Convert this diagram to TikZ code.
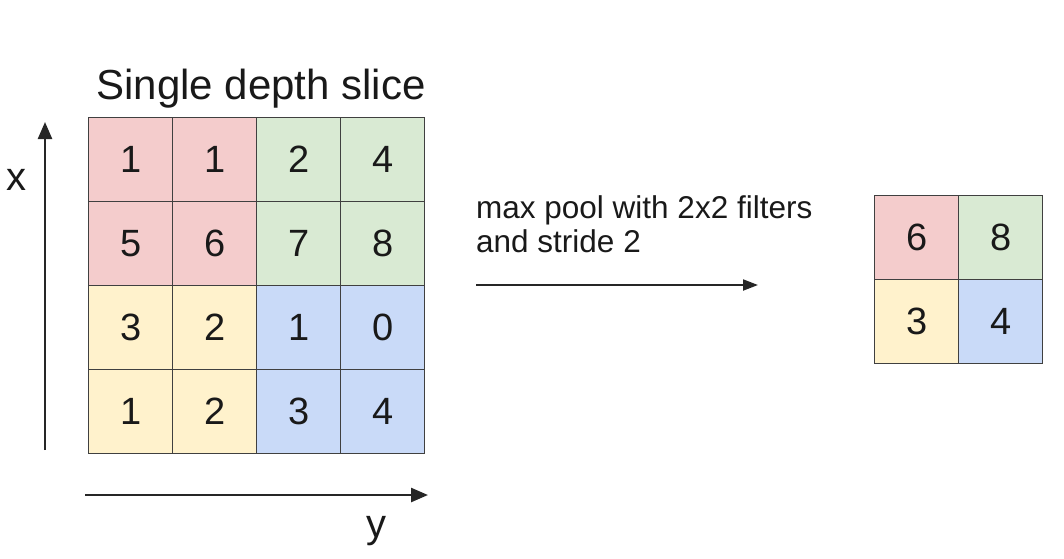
\documentclass[tikz,border=0pt]{standalone}
\usepackage{fontspec}
\setmainfont{Liberation Sans}
\usetikzlibrary{arrows.meta, positioning}
\definecolor{poolred}{HTML}{F4CCCC}
\definecolor{poolgreen}{HTML}{D9EAD3}
\definecolor{poolyellow}{HTML}{FFF2CC}
\definecolor{poolblue}{HTML}{C9DAF8}

\begin{document}
\begin{tikzpicture}[
  x=1pt, y=-1pt,
  every node/.style={font=\fontsize{38}{45}\selectfont, text=black!90},
  cell/.style={draw=black!75, line width=1.2pt, minimum size=84pt, inner sep=0pt, anchor=north west},
  axis/.style={-{Triangle[length=17pt, width=14pt]}, line width=2.5pt, black!85},
  line/.style={-{Triangle[length=15pt, width=11pt]}, line width=2pt, black!85}
]
\useasboundingbox (0,0) rectangle (1064,558);

% input slice
\foreach \val/\col [count=\k from 0] in {1/poolred, 1/poolred, 2/poolgreen, 4/poolgreen,
    5/poolred, 6/poolred, 7/poolgreen, 8/poolgreen,
    3/poolyellow, 2/poolyellow, 1/poolblue, 0/poolblue,
    1/poolyellow, 2/poolyellow, 3/poolblue, 4/poolblue} {
  \pgfmathtruncatemacro\row{div(\k,4)}
  \pgfmathtruncatemacro\clm{mod(\k,4)}
  \node[cell, fill=\col] (in-\row-\clm) at (88+84*\clm, 117+84*\row) {\val};
}

% pooled output
\foreach \val/\col [count=\k from 0] in {6/poolred, 8/poolgreen, 3/poolyellow, 4/poolblue} {
  \pgfmathtruncatemacro\row{div(\k,2)}
  \pgfmathtruncatemacro\clm{mod(\k,2)}
  \node[cell, fill=\col] (out-\row-\clm) at (874+84*\clm, 195+84*\row) {\val};
}

\node[anchor=base, font=\fontsize{42}{50}\selectfont] (title) at (261,99) {Single depth slice};
\node[anchor=base, font=\fontsize{40}{48}\selectfont] (xlabel) at (16,190) {x};
\node[anchor=base, font=\fontsize{40}{48}\selectfont] (ylabel) at (376,537) {y};
\node[anchor=base west, align=left, inner sep=0pt, font=\fontsize{31.5}{34}\selectfont] (pooltext) at (476,252) {max pool with 2x2 filters\\and stride 2};

\coordinate (xfrom) at (45,450);
\coordinate (xto) at (45,122);
\coordinate (yfrom) at (85,495);
\coordinate (yto) at (428,495);
\coordinate (pfrom) at (476,285);
\coordinate (pto) at (758,285);

\draw[axis] (xfrom) -- (xto);
\draw[axis] (yfrom) -- (yto);
\draw[line] (pfrom) -- (pto);
\end{tikzpicture}
\end{document}
